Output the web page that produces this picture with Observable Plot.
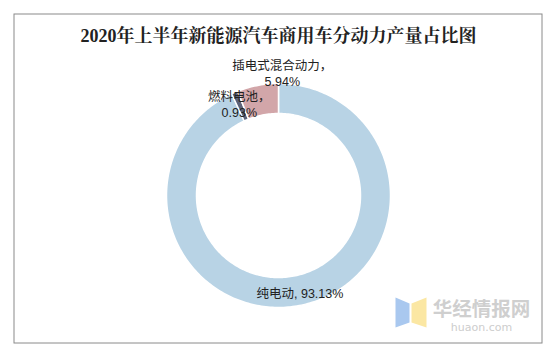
<!DOCTYPE html>
<html>
<head>
<meta charset="utf-8">
<script src="https://cdn.jsdelivr.net/npm/d3@7"></script>
<script src="https://cdn.jsdelivr.net/npm/@observablehq/plot@0.6"></script>
<style>
  html, body { margin: 0; padding: 0; background: #fff; }
  #chart svg { display: block; }
</style>
</head>
<body>
<div id="chart"></div>
<script>
const title = "2020年上半年新能源汽车商用车分动力产量占比图";
const categories = ["纯电动", "燃料电池", "插电式混合动力"];
const shares = [93.13, 0.93, 5.94];
const labelTexts = ["纯电动, 93.13%", "燃料电池，\n0.93%", "插电式混合动力，\n5.94%"];
const colors = ["#b8d3e5", "#5c6279", "#d2a6a9"];
const labelRadius = [100, 100, 125];
const labelDx = [0, 0, 27];

const W = 554, H = 354;
const cx = 278, cy = 195, R = 112, r0 = 82;

const pie = d3.pie().sort(null).value(d => d)(shares);
const pt = (a, rad) => [cx + rad * Math.sin(a), cy - rad * Math.cos(a)];
function ring(a0, a1) {
  const n = Math.max(4, Math.ceil((a1 - a0) / 0.02));
  const outer = d3.range(n + 1).map(i => pt(a0 + (a1 - a0) * i / n, R));
  const inner = d3.range(n + 1).map(i => pt(a1 - (a1 - a0) * i / n, r0));
  const ringPts = outer.concat(inner);
  ringPts.push(ringPts[0]);
  return ringPts;
}
const slices = pie.map((p, i) => ({
  type: "Feature",
  properties: {name: categories[i], color: colors[i]},
  geometry: {type: "Polygon", coordinates: [ring(p.startAngle, p.endAngle)]}
}));
const labels = pie.map((p, i) => {
  const m = (p.startAngle + p.endAngle) / 2;
  const [x, y] = pt(m, labelRadius[i]);
  return {x: x + labelDx[i], y, text: labelTexts[i]};
});

// watermark logo
const logo = [
  {type: "Feature", properties: {color: "#a9c8ef"}, geometry: {type: "Polygon", coordinates: [[[395, 297], [409, 303], [409, 322], [395, 327], [395, 297]]]}},
  {type: "Feature", properties: {color: "#fbe7a3"}, geometry: {type: "Polygon", coordinates: [[[411, 303], [426, 297], [426, 327], [411, 322], [411, 303]]]}}
];

const chart = Plot.plot({
  width: W,
  height: H,
  margin: 0,
  projection: {type: "identity"},
  style: {background: "#fff", fontFamily: "'Noto Sans CJK SC', sans-serif"},
  marks: [
    Plot.frame({stroke: "#8a8a8a", insetLeft: 13.5, insetTop: 13.5, insetRight: 12.5, insetBottom: 11.5}),
    Plot.geo(slices, {fill: d => d.properties.color, stroke: "#fff", strokeWidth: 1.5}),
    Plot.geo(logo, {fill: d => d.properties.color}),
    Plot.text(labels, {x: "x", y: "y", text: "text", fontSize: 12.5, lineHeight: 1.3, fill: "#222",
      fontFamily: "'Liberation Sans', 'Noto Sans CJK SC', sans-serif"}),
    Plot.text([title], {x: () => 278, y: () => 36, text: d => d, fontSize: 18, fontWeight: "bold", fill: "#222",
      fontFamily: "'Liberation Serif', 'Noto Serif CJK SC', 'Noto Sans CJK SC', serif"}),
    Plot.text(["华经情报网"], {x: () => 481, y: () => 309, text: d => d, fontSize: 19.5, fontWeight: "bold", fill: "#cfcfcf"}),
    Plot.text(["huaon.com"], {x: () => 481, y: () => 327, text: d => d, fontSize: 11, fill: "#cdcdcd",
      fontFamily: "'DejaVu Sans', sans-serif", letterSpacing: "3.6px"})
  ]
});
document.getElementById("chart").appendChild(chart);
</script>
</body>
</html>
